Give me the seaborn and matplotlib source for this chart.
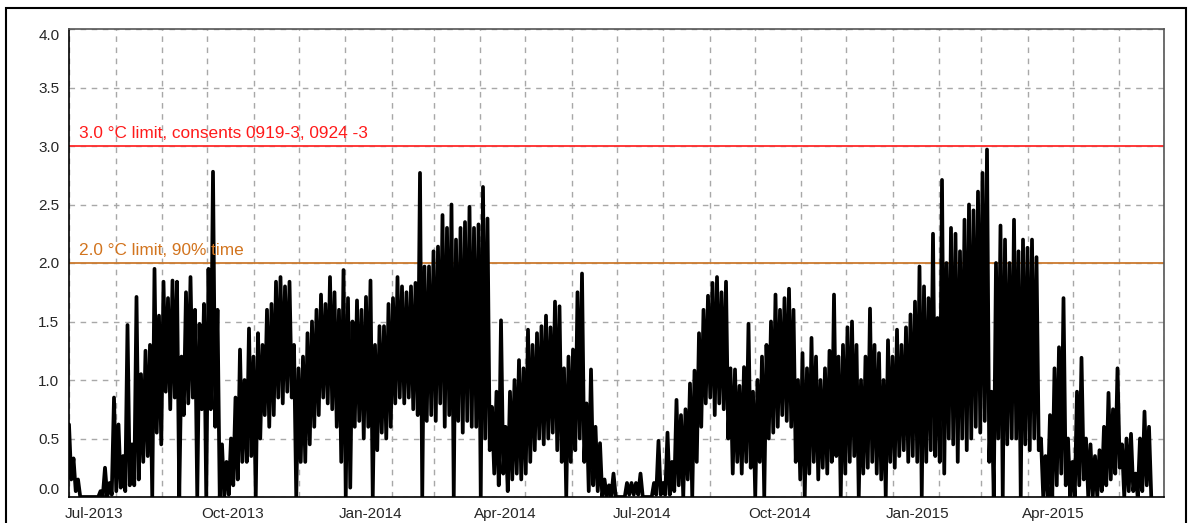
import numpy as np
import pandas as pd
import matplotlib
matplotlib.use("Agg")
import matplotlib.pyplot as plt
import matplotlib.dates as mdates
from matplotlib.patches import Rectangle
import seaborn as sns

# temperature difference (deg C), read as peak / trough of every 3-day period from 1 Jul 2013
start = pd.Timestamp("2013-07-01")
bin_days = 3

peak = [
    0.62, 0.33, 0.15, 0, 0, 0, 0, 0.05, 0.25, 0.12,
    0.85, 0.62, 0.35, 1.47, 0.45, 1.71, 1.05, 1.25, 1.3, 1.95,
    1.55, 1.84, 1.7, 1.85, 1.84, 1.2, 1.75, 1.88, 1.6, 1.48,
    1.65, 1.95, 2.78, 1.6, 0.45, 0.3, 0.5, 0.85, 1.26, 1.0,
    1.44, 1.2, 1.4, 1.3, 1.6, 1.65, 1.84, 1.88, 1.8, 1.84,
    1.3, 1.1, 1.2, 1.4, 1.5, 1.6, 1.73, 1.65, 1.88, 1.75,
    1.6, 1.94, 1.7, 1.5, 1.68, 1.6, 1.71, 1.85, 1.3, 1.46,
    1.46, 1.65, 1.7, 1.88, 1.8, 1.75, 1.8, 1.83, 2.77, 1.97,
    1.97, 2.1, 2.14, 2.41, 2.3, 2.5, 2.2, 2.3, 2.35, 2.48,
    2.3, 2.33, 2.65, 2.38, 0.77, 0.9, 1.51, 0.6, 0.9, 1.0,
    1.17, 1.1, 1.43, 1.3, 1.4, 1.46, 1.55, 1.45, 1.67, 1.63,
    1.1, 1.2, 1.26, 1.75, 1.91, 0.8, 1.09, 0.6, 0.46, 0.15,
    0.1, 0.2, 0, 0, 0.12, 0.12, 0.12, 0.2, 0, 0,
    0.12, 0.48, 0.12, 0.55, 0.3, 0.83, 0.7, 0.75, 0.97, 1.08,
    1.4, 1.6, 1.72, 1.83, 1.88, 1.75, 1.84, 1.1, 1.09, 0.95,
    1.11, 1.48, 0.9, 1.0, 1.2, 1.3, 1.5, 1.73, 1.6, 1.7,
    1.78, 1.6, 1.0, 1.23, 1.1, 1.36, 1.2, 1.0, 1.1, 1.25,
    1.73, 1.2, 1.3, 1.45, 1.5, 1.3, 1.0, 1.2, 1.61, 1.3,
    1.23, 1.0, 1.34, 1.2, 1.43, 1.3, 1.45, 1.56, 1.67, 1.97,
    1.8, 1.7, 2.25, 1.53, 2.71, 2.0, 2.3, 2.25, 2.1, 2.37,
    2.5, 2.45, 2.61, 2.77, 2.97, 0.9, 2.0, 2.32, 2.2, 2.0,
    2.37, 2.1, 2.2, 2.13, 2.2, 2.05, 0.5, 0.35, 0.7, 1.1,
    1.28, 1.7, 0.5, 0.3, 0.9, 1.19, 0.5, 0.45, 0.35, 0.4,
    0.6, 0.89, 0.75, 1.1, 0.45, 0.5, 0.54, 0.2, 0.5, 0.73, 0.6,
]

trough = [
    0.15, 0.05, 0, 0, 0, 0, 0, 0, 0, 0.02,
    0.05, 0.08, 0.05, 0.1, 0.1, 0.15, 0.3, 0.35, 0.0, 0.55,
    0.45, 0.9, 0.75, 0.85, 0.0, 0.7, 0.8, 0.85, 0.0, 0.75,
    0.0, 0.75, 0.6, 0.0, 0.0, 0.02, 0.1, 0.15, 0.3, 0.3,
    0.35, 0.0, 0.5, 0.7, 0.6, 0.7, 0.85, 0.8, 0.9, 0.85,
    0.0, 0.3, 0.3, 0.45, 0.6, 0.7, 0.85, 0.8, 0.75, 0.6,
    0.3, 0.0, 0.08, 0.6, 0.65, 0.5, 0.6, 0.0, 0.4, 0.55,
    0.5, 0.6, 0.8, 0.85, 0.8, 0.85, 0.75, 0.7, 0.0, 0.65,
    0.7, 0.65, 0.8, 0.6, 0.7, 0.0, 0.65, 0.55, 0.65, 0.6,
    0.6, 0.0, 0.5, 0.4, 0.2, 0.1, 0.2, 0.05, 0.15, 0.2,
    0.15, 0.2, 0.3, 0.4, 0.5, 0.45, 0.5, 0.55, 0.4, 0.3,
    0.0, 0.3, 0.4, 0.5, 0.3, 0.05, 0.1, 0.05, 0.0, 0.0,
    0, 0, 0, 0, 0.02, 0.02, 0.02, 0, 0, 0,
    0.02, 0.02, 0.02, 0.02, 0.05, 0.1, 0.0, 0.15, 0.0, 0.3,
    0.6, 0.8, 0.85, 0.7, 0.8, 0.75, 0.5, 0.2, 0.3, 0.2,
    0.3, 0.25, 0.0, 0.3, 0.0, 0.5, 0.55, 0.6, 0.7, 0.65,
    0.6, 0.3, 0.15, 0.0, 0.2, 0.3, 0.15, 0.25, 0.2, 0.3,
    0.35, 0.0, 0.2, 0.3, 0.35, 0.0, 0.2, 0.25, 0.3, 0.2,
    0.15, 0.0, 0.3, 0.25, 0.35, 0.4, 0.3, 0.35, 0.3, 0.0,
    0.3, 0.4, 0.35, 0.3, 0.2, 0.5, 0.45, 0.3, 0.5, 0.4,
    0.5, 0.6, 0.55, 0.65, 0.3, 0.0, 0.5, 0.0, 0.45, 0.5,
    0.5, 0.0, 0.45, 0.4, 0.5, 0.4, 0.0, 0.0, 0.0, 0.1,
    0.2, 0.1, 0.0, 0.0, 0.1, 0.15, 0.0, 0.0, 0.0, 0.05,
    0.1, 0.15, 0.2, 0.25, 0.0, 0.05, 0.05, 0.0, 0.05, 0.1, 0.0,
]

limits = [3.0, 2.0]
limit_labels = ["3.0 \u00b0C limit, consents 0919-3, 0924 -3", "2.0 \u00b0C limit, 90% time"]
limit_colors = ["#ff2a2a", "#cc7a2e"]
label_colors = ["#ff1a1a", "#d2741e"]

# build the series: peak then trough of each period
n = len(peak)
days = np.zeros(2 * n)
vals = np.zeros(2 * n)
days[0::2] = np.arange(n) * bin_days
days[1::2] = np.arange(n) * bin_days + bin_days / 2
vals[0::2] = peak
vals[1::2] = trough
df = pd.DataFrame({"date": start + pd.to_timedelta(days, unit="D"), "dT": vals})

sns.set_style("white")
plt.rcParams["font.family"] = ["Liberation Sans", "DejaVu Sans"]
plt.rcParams["font.size"] = 11

fig = plt.figure(figsize=(11.95, 5.23), dpi=100)
ax = fig.add_axes([69 / 1195, 26 / 523, 1095 / 1195, 468 / 523])

sns.lineplot(data=df, x="date", y="dT", color="black", lw=2.7,
             sort=False, estimator=None, ax=ax, zorder=3)

for lim, lab, c, tc in zip(limits, limit_labels, limit_colors, label_colors):
    ax.axhline(lim, color=c, lw=1.3, zorder=2)
    ax.text(0.009, lim + 0.04, lab, color=tc, fontsize=12.4,
            transform=ax.get_yaxis_transform(), va="bottom", ha="left")

ax.set_xlim(start, pd.Timestamp("2015-07-01"))
ax.set_ylim(0, 4.0)

# month gridlines, quarterly labels centred in the month
ax.xaxis.set_major_locator(mdates.MonthLocator())
ax.xaxis.set_major_formatter(plt.NullFormatter())
ax.xaxis.set_minor_locator(mdates.MonthLocator(bymonth=[1, 4, 7, 10], bymonthday=18))
ax.xaxis.set_minor_formatter(mdates.DateFormatter("%b-%Y"))
ax.tick_params(axis="x", which="both", length=0, pad=7, labelsize=11)

yt = np.arange(0, 4.01, 0.5)
ax.set_yticks(yt)
ax.set_yticklabels(["%.1f" % v for v in yt])
ax.tick_params(axis="y", length=0, pad=7, labelsize=11)
ylabs = ax.get_yticklabels()
ylabs[0].set_va("bottom")
ylabs[-1].set_va("top")

ax.grid(True, which="major", axis="both", color="#a8a8a8", lw=1.0, ls=(0, (4, 4)))
ax.set_axisbelow(True)
ax.set_xlabel("")
ax.set_ylabel("")

for side in ["left", "bottom"]:
    ax.spines[side].set_color("black")
    ax.spines[side].set_linewidth(1.2)
for side in ["top", "right"]:
    ax.spines[side].set_color("#555555")
    ax.spines[side].set_linewidth(1.2)

# outer frame of the figure
fig.patches.append(Rectangle((5.5 / 1195, -0.02), 1180.5 / 1195, (523 - 7.5) / 523 + 0.02,
                             transform=fig.transFigure, fill=False, ec="black", lw=1.5))

fig.savefig("out.png", dpi=100)
